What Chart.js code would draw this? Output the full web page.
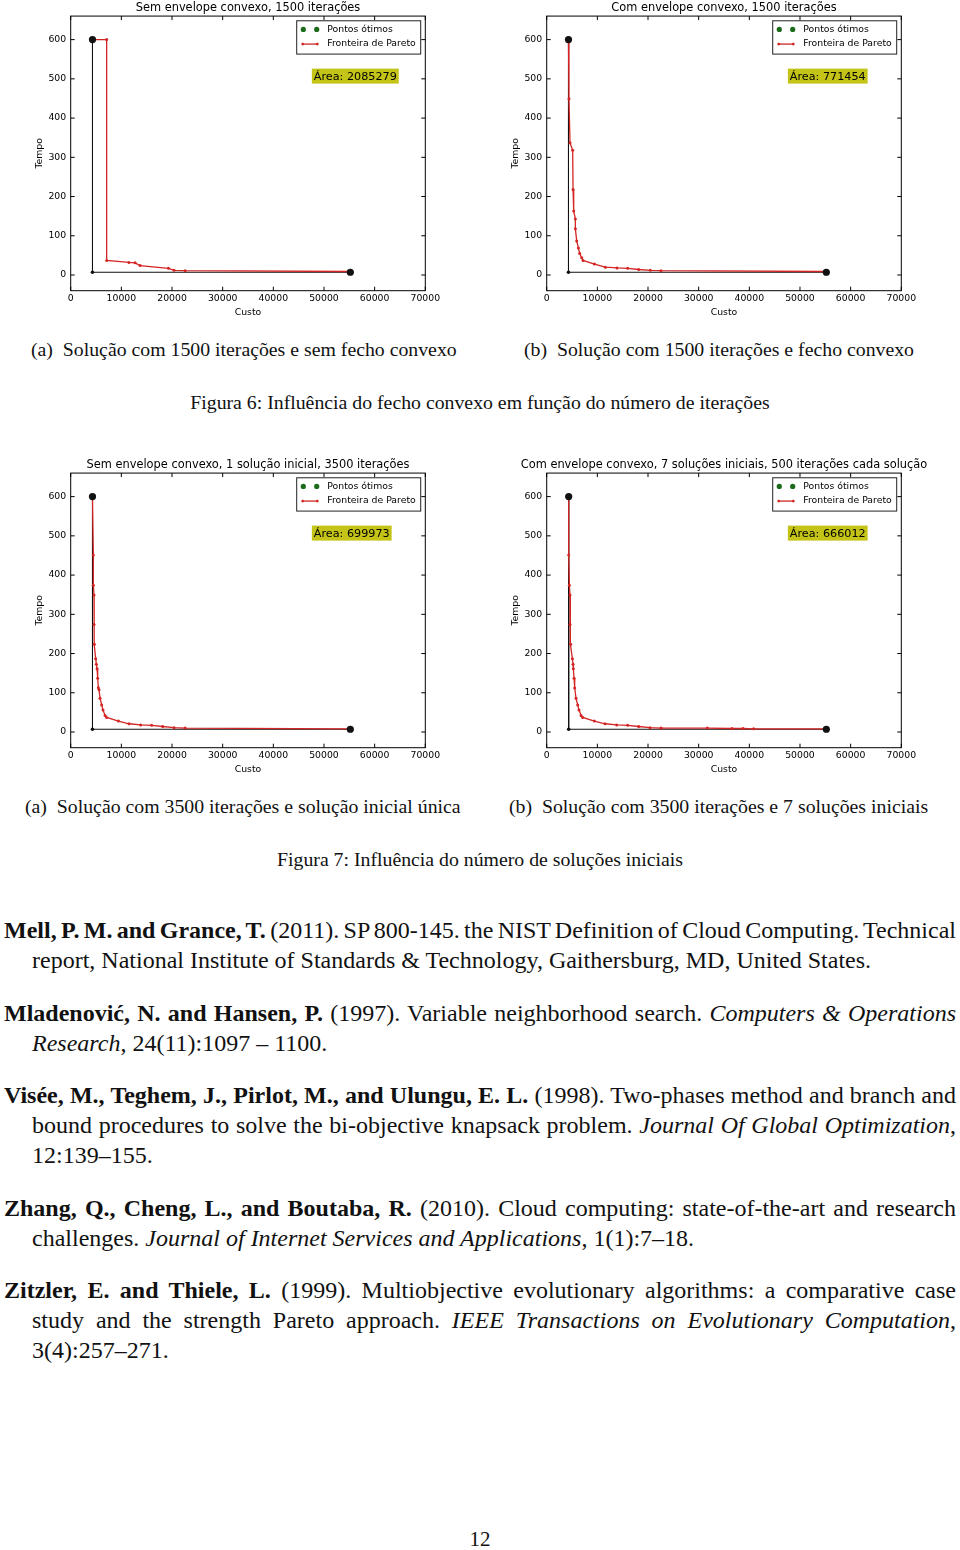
<!DOCTYPE html>
<html>
<head>
<meta charset="utf-8">
<title>Figuras 6 e 7</title>
<script src="https://cdn.jsdelivr.net/npm/chart.js@4"></script>
<style>
    body {
        margin: 0;
        background: #fff;
        width: 960px;
        height: 1550px;
        position: relative;
        font-family: "Liberation Serif", "Times New Roman", serif;
        color: #111;
    }
    .plot { position: absolute; width: 472px; height: 320px; }
    .cap { position: absolute; white-space: nowrap; font-size: 19.8px; line-height: 24px; }
    .ref { position: absolute; white-space: nowrap; font-size: 24px; line-height: 30px; }
    .just { text-align: justify; text-align-last: justify; word-spacing: -3px; }
</style>
<script>
    // eixos comuns
    var xTicks = [0, 10000, 20000, 30000, 40000, 50000, 60000, 70000];
    var yTicks = [0, 100, 200, 300, 400, 500, 600];
    var legendLabels = ['Pontos ótimos', 'Fronteira de Pareto'];

    // Figura 6a
    var titulo6a = 'Sem envelope convexo, 1500 iterações';
    var area6a = 'Área: 2085279';
    var otimoCusto6a = [4300, 55200];
    var otimoTempo6a = [600, 7];
    var custo6a = [4300, 7100, 7100, 11500, 12700, 13700, 19300, 20400, 22600, 55200];
    var tempo6a = [600, 600, 37, 32, 31, 24, 17, 12, 11, 9];

    // Figura 6b
    var titulo6b = 'Com envelope convexo, 1500 iterações';
    var area6b = 'Área: 771454';
    var otimoCusto6b = [4300, 55200];
    var otimoTempo6b = [600, 7];
    var custo6b = [4300, 4400, 4600, 5130, 5200, 5330, 5660, 5660, 5920, 6250, 6510, 6910, 7170,
                   9410, 11580, 13880, 15990, 18160, 20460, 22570, 55200];
    var tempo6b = [600, 449, 337, 318, 218, 163, 143, 118, 87, 69, 55, 44, 37,
                   28, 20, 18, 17, 14, 12, 11, 9];

    // Figura 7a
    var titulo7a = 'Sem envelope convexo, 1 solução inicial, 3500 iterações';
    var area7a = 'Área: 699973';
    var otimoCusto7a = [4300, 55200];
    var otimoTempo7a = [600, 7];
    var custo7a = [4300, 4470, 4470, 4600, 4600, 4670, 4930, 5070, 5200, 5330, 5460, 5590, 5790,
                   6120, 6380, 6780, 7100, 9410, 11510, 13820, 15990, 18160, 20400, 22570, 55200];
    var tempo7a = [600, 451, 374, 349, 274, 224, 187, 173, 161, 137, 113, 108, 86,
                   69, 56, 42, 37, 28, 21, 18, 17, 14, 11, 10, 8];

    // Figura 7b
    var titulo7b = 'Com envelope convexo, 7 soluções iniciais, 500 iterações cada solução';
    var area7b = 'Área: 666012';
    var otimoCusto7b = [4340, 55200];
    var otimoTempo7b = [600, 7];
    var custo7b = [4340, 4340, 4470, 4600, 4600, 4740, 5070, 5200, 5260, 5400, 5530, 5790, 6120,
                   6380, 6780, 7100, 9410, 11510, 13820, 15990, 18160, 20400, 22570, 31710,
                   36580, 38750, 40860, 55200];
    var tempo7b = [600, 451, 374, 349, 274, 224, 187, 173, 161, 137, 112, 86, 69,
                   56, 42, 37, 28, 21, 18, 17, 14, 11, 10, 10,
                   9, 9, 8, 8];
</script>
</head>
<body>
    <div class="plot" style="left:12px; top:0px;"><canvas id="g6a" width="472" height="320"></canvas></div>
    <div class="plot" style="left:488px; top:0px;"><canvas id="g6b" width="472" height="320"></canvas></div>
    <div class="plot" style="left:12px; top:457px;"><canvas id="g7a" width="472" height="320"></canvas></div>
    <div class="plot" style="left:488px; top:457px;"><canvas id="g7b" width="472" height="320"></canvas></div>

    <div class="cap" style="left:31px; top:337px;">(a)&nbsp; Solução com 1500 iterações e sem fecho convexo</div>
    <div class="cap" style="left:524px; top:337px;">(b)&nbsp; Solução com 1500 iterações e fecho convexo</div>
    <div class="cap" style="left:0; width:960px; text-align:center; top:390px;">Figura 6: Influência do fecho convexo em função do número de iterações</div>

    <div class="cap" style="left:25px; top:794px;">(a)&nbsp; Solução com 3500 iterações e solução inicial única</div>
    <div class="cap" style="left:509px; top:794px;">(b)&nbsp; Solução com 3500 iterações e 7 soluções iniciais</div>
    <div class="cap" style="left:0; width:960px; text-align:center; top:847px;">Figura 7: Influência do número de soluções iniciais</div>

    <div class="ref just" style="left:4px; width:952px; top:915px;"><b>Mell, P. M. and Grance, T.</b> (2011). SP 800-145. the NIST Definition of Cloud Computing. Technical</div>
    <div class="ref" style="left:32px; top:945px;">report, National Institute of Standards &amp; Technology, Gaithersburg, MD, United States.</div>

    <div class="ref just" style="left:4px; width:952px; top:998px;"><b>Mladenović, N. and Hansen, P.</b> (1997). Variable neighborhood search. <i>Computers &amp; Operations</i></div>
    <div class="ref" style="left:32px; top:1028px;"><i>Research</i>, 24(11):1097 – 1100.</div>

    <div class="ref just" style="left:4px; width:952px; top:1080px;"><b>Visée, M., Teghem, J., Pirlot, M., and Ulungu, E. L.</b> (1998). Two-phases method and branch and</div>
    <div class="ref just" style="left:32px; width:924px; top:1110px;">bound procedures to solve the bi-objective knapsack problem. <i>Journal Of Global Optimization</i>,</div>
    <div class="ref" style="left:32px; top:1140px;">12:139–155.</div>

    <div class="ref just" style="left:4px; width:952px; top:1193px;"><b>Zhang, Q., Cheng, L., and Boutaba, R.</b> (2010). Cloud computing: state-of-the-art and research</div>
    <div class="ref" style="left:32px; top:1223px;">challenges. <i>Journal of Internet Services and Applications</i>, 1(1):7–18.</div>

    <div class="ref just" style="left:4px; width:952px; top:1275px;"><b>Zitzler, E. and Thiele, L.</b> (1999). Multiobjective evolutionary algorithms: a comparative case</div>
    <div class="ref just" style="left:32px; width:924px; top:1305px;">study and the strength Pareto approach. <i>IEEE Transactions on Evolutionary Computation</i>,</div>
    <div class="ref" style="left:32px; top:1335px;">3(4):257–271.</div>

    <div class="cap" style="left:0; width:960px; text-align:center; top:1527px; font-size:21px;">12</div>

<script>
    Chart.defaults.font.family = '"DejaVu Sans", sans-serif';
    Chart.defaults.color = '#000';

    var corVermelho = '#d42525';
    var lado = 58.7;        // margem lateral do quadro
    var areaX = 48000;      // posição do rótulo da área
    var areaY = 507;

    var quadro = {
        id: 'quadro',
        afterDraw: function(chart) {
            var ctx = chart.ctx;
            var a = chart.chartArea;
            var sx = chart.scales.x;
            var sy = chart.scales.y;
            var opts = chart.options.plugins.quadro;

            ctx.save();
            ctx.strokeStyle = '#000';
            ctx.lineWidth = 1;
            ctx.strokeRect(a.left, a.top, a.right - a.left, a.bottom - a.top);

            // marcas internas dos ticks, nos quatro lados
            ctx.beginPath();
            xTicks.forEach(function(v) {
                var p = sx.getPixelForValue(v);
                ctx.moveTo(p, a.bottom); ctx.lineTo(p, a.bottom - 4);
                ctx.moveTo(p, a.top); ctx.lineTo(p, a.top + 4);
            });
            yTicks.forEach(function(v) {
                var p = sy.getPixelForValue(v);
                ctx.moveTo(a.left, p); ctx.lineTo(a.left + 4, p);
                ctx.moveTo(a.right, p); ctx.lineTo(a.right - 4, p);
            });
            ctx.stroke();

            // legenda
            var lw = 124, lh = 33.3;
            var lx = a.right - 4.6 - lw, ly = a.top + 4.7;
            ctx.fillStyle = '#fff';
            ctx.fillRect(lx, ly, lw, lh);
            ctx.strokeStyle = '#222';
            ctx.strokeRect(lx, ly, lw, lh);

            ctx.fillStyle = '#1b6b1b';
            [6.6, 20].forEach(function(dx) {
                ctx.beginPath();
                ctx.arc(lx + dx, ly + 8.6, 2.6, 0, 2 * Math.PI);
                ctx.fill();
            });
            ctx.strokeStyle = corVermelho;
            ctx.lineWidth = 1.3;
            ctx.beginPath();
            ctx.moveTo(lx + 6, ly + 23.3);
            ctx.lineTo(lx + 20.6, ly + 23.3);
            ctx.stroke();
            ctx.fillStyle = corVermelho;
            [6, 20.6].forEach(function(dx) {
                ctx.beginPath();
                ctx.arc(lx + dx, ly + 23.3, 1.4, 0, 2 * Math.PI);
                ctx.fill();
            });

            ctx.fillStyle = '#000';
            ctx.font = '9.3px "DejaVu Sans"';
            ctx.textAlign = 'left';
            ctx.textBaseline = 'middle';
            ctx.fillText(legendLabels[0], lx + 30.6, ly + 8.6);
            ctx.fillText(legendLabels[1], lx + 30.6, ly + 23.3);

            // rótulo da área
            ctx.font = '11.2px "DejaVu Sans"';
            var tx = sx.getPixelForValue(areaX);
            var ty = sy.getPixelForValue(areaY);
            var tw = ctx.measureText(opts.area).width;
            ctx.fillStyle = '#c4c418';
            ctx.fillRect(tx - 2, ty - 7.5, tw + 4, 15);
            ctx.fillStyle = '#000';
            ctx.fillText(opts.area, tx, ty + 0.5);
            ctx.restore();
        }
    };

    function pontos(xs, ys) {
        return xs.map(function(x, i) { return {x: x, y: ys[i]}; });
    }

    function makeChart(id, titulo, area, otimoCusto, otimoTempo, custo, tempo) {
        var ctx = document.getElementById(id).getContext('2d');
        // linhas pretas ligando os dois pontos ótimos pelo canto
        var envoltoria = [
            {x: otimoCusto[0], y: otimoTempo[0]},
            {x: otimoCusto[0], y: otimoTempo[1]},
            {x: otimoCusto[1], y: otimoTempo[1]}
        ];
        return new Chart(ctx, {
            type: 'scatter',
            data: {
                datasets: [{
                    label: legendLabels[0],
                    data: pontos(otimoCusto, otimoTempo),
                    showLine: false,
                    pointRadius: 3.6,
                    pointBackgroundColor: '#111',
                    pointBorderWidth: 0
                }, {
                    label: legendLabels[1],
                    data: pontos(custo, tempo),
                    showLine: true,
                    borderColor: corVermelho,
                    borderWidth: 1.3,
                    pointRadius: 1.5,
                    pointBackgroundColor: corVermelho,
                    pointBorderWidth: 0,
                    tension: 0
                }, {
                    label: 'envoltoria',
                    data: envoltoria,
                    showLine: true,
                    borderColor: '#111',
                    borderWidth: 1,
                    pointRadius: [0, 1.8, 0],
                    pointBackgroundColor: '#111',
                    pointBorderWidth: 0
                }]
            },
            options: {
                responsive: false,
                animation: false,
                devicePixelRatio: 1,
                layout: { padding: 0 },
                plugins: {
                    legend: { display: false },
                    tooltip: { enabled: false },
                    title: {
                        display: true,
                        text: titulo,
                        color: '#000',
                        font: { size: 11.4, weight: 'normal' },
                        padding: { top: 1.2, bottom: 1.2 }
                    },
                    quadro: { area: area }
                },
                scales: {
                    x: {
                        type: 'linear',
                        min: 0,
                        max: 70000,
                        grid: { display: false, drawTicks: false },
                        border: { display: false },
                        ticks: {
                            font: { size: 9.3 },
                            color: '#000',
                            padding: 2,
                            maxRotation: 0,
                            autoSkip: false,
                            callback: function(v) { return String(v); }
                        },
                        title: {
                            display: true,
                            text: 'Custo',
                            color: '#000',
                            font: { size: 9.3 },
                            padding: { top: 0, bottom: 1.6 }
                        },
                        afterBuildTicks: function(s) {
                            s.ticks = xTicks.map(function(v) { return {value: v}; });
                        },
                        afterFit: function(s) { s.height = 29.3; }
                    },
                    y: {
                        type: 'linear',
                        min: -40,
                        max: 660,
                        grid: { display: false, drawTicks: false },
                        border: { display: false },
                        ticks: {
                            font: { size: 9.3 },
                            color: '#000',
                            padding: 4.5,
                            callback: function(v) { return String(v); }
                        },
                        title: {
                            display: true,
                            text: 'Tempo',
                            color: '#000',
                            font: { size: 9.3 },
                            padding: { top: lado - 30.7 - 5.6, bottom: 0 }
                        },
                        afterBuildTicks: function(s) {
                            s.ticks = yTicks.map(function(v) { return {value: v}; });
                        },
                        afterFit: function(s) { s.width = lado; }
                    },
                    yr: {
                        type: 'linear',
                        position: 'right',
                        grid: { display: false, drawTicks: false },
                        border: { display: false },
                        ticks: { display: false },
                        afterFit: function(s) { s.width = lado; }
                    }
                }
            },
            plugins: [quadro]
        });
    }

    makeChart('g6a', titulo6a, area6a, otimoCusto6a, otimoTempo6a, custo6a, tempo6a);
    makeChart('g6b', titulo6b, area6b, otimoCusto6b, otimoTempo6b, custo6b, tempo6b);
    makeChart('g7a', titulo7a, area7a, otimoCusto7a, otimoTempo7a, custo7a, tempo7a);
    makeChart('g7b', titulo7b, area7b, otimoCusto7b, otimoTempo7b, custo7b, tempo7b);
</script>
</body>
</html>
